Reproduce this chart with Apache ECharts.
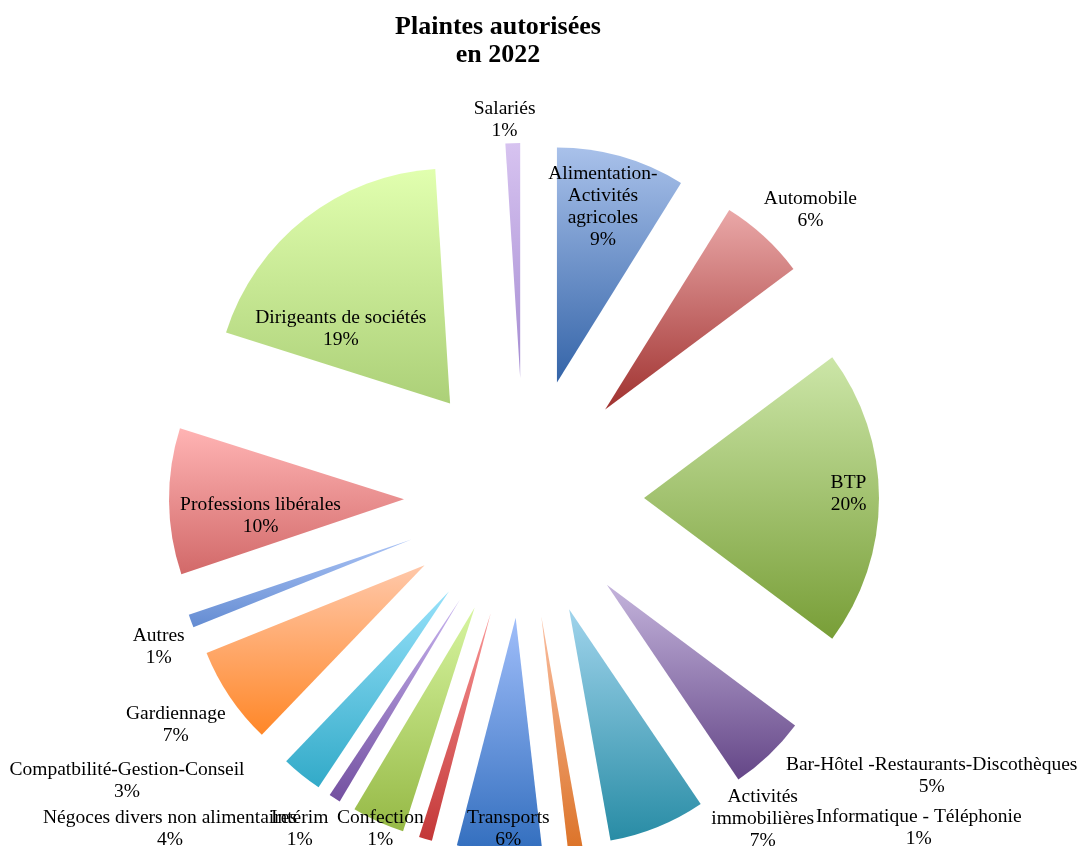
<!DOCTYPE html>
<html>
<head>
<meta charset="utf-8">
<script src="https://cdn.jsdelivr.net/npm/echarts@6/dist/echarts.min.js"></script>
<style>
html,body{margin:0;padding:0;background:#fff;}
#chart{width:1083px;height:846px;}
</style>
</head>
<body>
<div id="chart"></div>
<script>
// ---- data ----
const categories = [
  "Alimentation-Activités agricoles", "Automobile", "BTP",
  "Bar-Hôtel -Restaurants-Discothèques", "Activités immobilières",
  "Informatique - Téléphonie", "Transports", "Confection",
  "Négoces divers non alimentaires", "Intérim", "Compatbilité-Gestion-Conseil",
  "Gardiennage", "Autres", "Professions libérales", "Dirigeants de sociétés", "Salariés"
];
// label text as displayed (line breaks as in the reference)
const labelNames = [
  "Alimentation-\nActivités\nagricoles", "Automobile", "BTP",
  "Bar-Hôtel -Restaurants-Discothèques", "Activités\nimmobilières",
  "Informatique - Téléphonie", "Transports", "Confection",
  "Négoces divers non alimentaires", "Intérim", "Compatbilité-Gestion-Conseil",
  "Gardiennage", "Autres", "Professions libérales", "Dirigeants de sociétés", "Salariés"
];
const values = [8.8, 5.9, 20.3, 5.3, 6.6, 1.0, 5.8, 0.9, 3.6, 0.8, 2.8, 6.7, 0.9, 10.0, 19.0, 1.0];

// ---- styles ----
const gradTop = ["#a9c1ea","#eaa8a8","#cce6a8","#c4b4dc","#a0d4ec","#fabea0","#a0befa","#fa9696",
                 "#d7f5a0","#c8b4f0","#96e1fa","#ffc8aa","#aac3f5","#ffb4b4","#e1ffaf","#d7c3f0"];
const gradBot = ["#3464a8","#a03230","#789e37","#644687","#288ca5","#dc7328","#326ebe","#c33737",
                 "#96b946","#7350a0","#32aac8","#ff8728","#648cd2","#d26969","#acd078","#a58cd2"];
const insideLabels = ["BTP","Professions libérales","Dirigeants de sociétés"];
// label nudges (dx, dy) relative to the library's default label placement
const labelShift = [
  [-81, 60], [-12, -19], [84, -4], [5, 14], [45, -17], [234, -31], [56, -33], [6, -20],
  [-72, -2], [4, 22], [-46, -2], [9, 23], [8, 22], [-23, 16], [-35, 20], [28, -13]
];
const FONT = "Liberation Serif";
const FS = 19.5;

const chart = echarts.init(document.getElementById('chart'));
const data = categories.map((name, i) => ({
  name: name,
  value: values[i],
  selected: true,
  itemStyle: {
    color: new echarts.graphic.LinearGradient(0, 0, 0, 1, [
      {offset: 0, color: gradTop[i]}, {offset: 1, color: gradBot[i]}
    ])
  },
  label: { position: insideLabels.indexOf(name) >= 0 ? 'inside' : 'outside' }
}));

chart.setOption({
  backgroundColor: '#ffffff',
  animation: false,
  title: {
    text: 'Plaintes autorisées\nen 2022',
    left: 493, top: 8, textAlign: 'center',
    textStyle: {fontFamily: FONT, fontSize: 26, fontWeight: 'bold', color: '#000', lineHeight: 28}
  },
  series: [{
    type: 'pie',
    center: [524, 498],
    radius: [0, 235],
    startAngle: 90,
    clockwise: true,
    selectedMode: 'multiple',
    selectedOffset: 120,
    avoidLabelOverlap: false,
    data: data,
    emphasis: {disabled: true},
    select: {itemStyle: {borderWidth: 0}},
    label: {
      show: true,
      alignTo: 'none',
      color: '#000',
      fontFamily: FONT,
      fontSize: FS,
      formatter: function (p) {
        const lines = labelNames[p.dataIndex].split('\n');
        lines.push(Math.round(p.percent) + '%');
        return lines.map(s => '{c|' + s + '}').join('\n');
      },
      rich: {c: {align: 'center', fontFamily: FONT, fontSize: FS, color: '#000', lineHeight: 22}}
    },
    labelLine: {show: false, length: 10, length2: 0},
    labelLayout: function (p) {
      const s = labelShift[p.dataIndex];
      return {dx: s[0], dy: s[1]};
    }
  }]
});
</script>
</body>
</html>
